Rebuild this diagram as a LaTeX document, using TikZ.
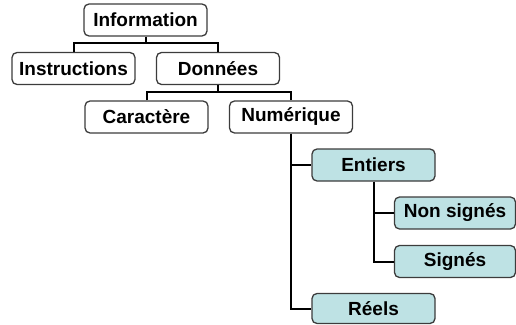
\documentclass[tikz,border=0pt]{standalone}
\usepackage{fontspec}
\setmainfont{Liberation Sans}
\definecolor{boxblue}{RGB}{190,226,228}
\definecolor{boxline}{RGB}{60,60,60}
\begin{document}
\begin{tikzpicture}[x=1pt,y=-1pt,
  box/.style={draw=boxline,line width=1.3pt,rounded corners=5pt,fill=white,
    minimum width=123pt,minimum height=32pt,inner sep=0pt,
    font=\fontsize{19}{21}\selectfont\bfseries},
  bluebox/.style={box,fill=boxblue},
  conn/.style={line width=2pt,black}]
\useasboundingbox (0,0) rectangle (516,324);
\node[box] (info) at (145.5,20) {Information};
\node[box] (instr) at (73.5,68.5) {Instructions};
\node[box] (don) at (218,68.5) {Données};
\node[box] (car) at (146.5,117) {Caractère};
\node[box] (num) at (291,117) {Numérique};
\node[bluebox] (ent) at (373.5,165) {Entiers};
\node[bluebox,minimum width=121pt] (ns) at (455,213) {Non signés};
\node[bluebox,minimum width=121pt] (sg) at (455,261.5) {Signés};
\node[bluebox,minimum height=30pt] (reel) at (373.5,308.5) {Réels};
\coordinate (j1) at (145.5,43);
\coordinate (j2) at (218,92);
\draw[conn] (info.south) -- (j1);
\draw[conn] (instr.north) |- (j1) -| (don.north);
\draw[conn] (don.south) -- (j2);
\draw[conn] (car.north) |- (j2) -| (num.north);
\draw[conn] (num.south) |- (ent.west);
\draw[conn] (num.south) |- (reel.west);
\draw[conn] (ent.south) |- (ns.west);
\draw[conn] (ent.south) |- (sg.west);
\end{tikzpicture}
\end{document}
